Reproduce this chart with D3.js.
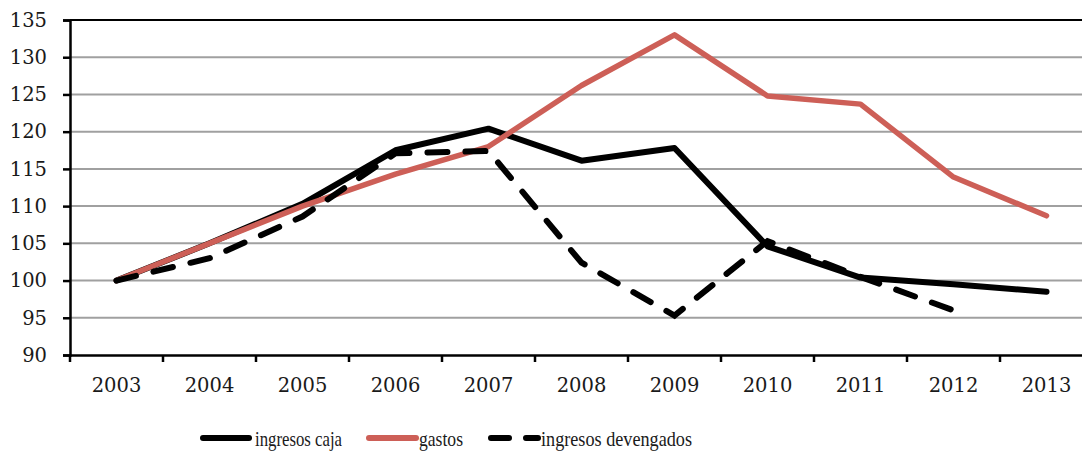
<!DOCTYPE html>
<html><head><meta charset="utf-8">
<script src="https://cdn.jsdelivr.net/npm/d3@7"></script>
<style>body{margin:0;background:#fff}svg{display:block}</style>
</head><body><svg id="c" width="1082" height="452"></svg>
<script>
const years = ["2003","2004","2005","2006","2007","2008","2009","2010","2011","2012","2013"];
const ingresosCaja = [100,105,110.3,117.5,120.4,116.1,117.8,104.6,100.4,99.5,98.5];
const gastos = [100,105,110,114.3,118,126.2,133,124.8,123.7,113.9,108.7];
const ingresosDevengados = [100,103,108.6,117.1,117.4,102.4,95.3,105.3,100.5,96];
const yTicks = [90,95,100,105,110,115,120,125,130,135];
const legendLabels = ["ingresos caja","gastos","ingresos devengados"];

const svg = d3.select("#c");
const L = 70, T = 20, B = 355, R = 1093;
const x = d3.scaleBand().domain(years).range([L, R]);
const y = d3.scaleLinear().domain([90,135]).range([B, T]);
const font = "'DejaVu Serif', serif";

// grid
svg.append("g").selectAll("line").data(yTicks.filter(d=>d>90&&d<135)).join("line")
  .attr("x1", L).attr("x2", R).attr("y1", d=>y(d)).attr("y2", d=>y(d))
  .attr("stroke", "#a0a0a0").attr("stroke-width", 2);
// top border
svg.append("line").attr("x1", L).attr("x2", R).attr("y1", y(135)).attr("y2", y(135))
  .attr("stroke", "#000").attr("stroke-width", 2);

const yAxis = svg.append("g").attr("transform", `translate(${L},0)`)
  .call(d3.axisLeft(y).tickValues(yTicks).tickSize(7).tickPadding(16));
const xAxis = svg.append("g").attr("transform", `translate(0,${B})`)
  .call(d3.axisBottom(x).tickValues([]).tickSizeOuter(0));
[yAxis].forEach(g=>{
  g.select(".domain").attr("stroke","#000").attr("stroke-width",2.5);
  g.selectAll(".tick line").attr("stroke","#000").attr("stroke-width",2.5);
  g.selectAll("text").attr("font-family",font).attr("font-size",19.5).attr("fill","#1a1a1a");
});
xAxis.select(".domain").attr("stroke","#000").attr("stroke-width",2.5);
// x category ticks at band boundaries
const bounds = years.map(d=>x(d)).concat([R]);
svg.append("g").selectAll("line").data(bounds).join("line")
  .attr("x1", d=>d).attr("x2", d=>d).attr("y1", B).attr("y2", B+7)
  .attr("stroke","#000").attr("stroke-width",2.5);
svg.append("g").selectAll("text").data(years).join("text")
  .attr("x", d=>x(d)+x.bandwidth()/2).attr("y", 392)
  .attr("text-anchor","middle").attr("font-family",font).attr("font-size",19.5).attr("fill","#1a1a1a")
  .text(d=>d);

const line = d3.line().x((d,i)=>x(years[i])+x.bandwidth()/2).y(d=>y(d));
svg.append("path").datum(ingresosCaja).attr("d", line).attr("fill","none")
  .attr("stroke","#000").attr("stroke-width",6).attr("stroke-linejoin","round").attr("stroke-linecap","round");
svg.append("path").datum(gastos).attr("d", line).attr("fill","none")
  .attr("stroke","#cd5f57").attr("stroke-width",5.5).attr("stroke-linejoin","round").attr("stroke-linecap","round");
svg.append("path").datum(ingresosDevengados).attr("d", line).attr("fill","none")
  .attr("stroke","#000").attr("stroke-width",6).attr("stroke-dasharray","20,18").attr("stroke-linecap","round");

// legend
const lg = svg.append("g");
const items = [
  {x1:203,x2:249,tx:255,w:87,color:"#000",dash:null},
  {x1:369,x2:416,tx:419,w:44,color:"#cd5f57",dash:null},
  {x1:491,x2:538,tx:541,w:151,color:"#000",dash:"18,17"}];
items.forEach((it,i)=>{
  lg.append("line").attr("x1",it.x1).attr("x2",it.x2).attr("y1",438).attr("y2",438)
    .attr("stroke",it.color).attr("stroke-width",6).attr("stroke-linecap","round")
    .attr("stroke-dasharray",it.dash);
  lg.append("text").attr("x",it.tx).attr("y",446).attr("font-family","'Liberation Serif', serif")
    .attr("font-size",21).attr("fill","#1a1a1a")
    .attr("textLength",it.w).attr("lengthAdjust","spacingAndGlyphs").text(legendLabels[i]);
});
</script></body></html>
